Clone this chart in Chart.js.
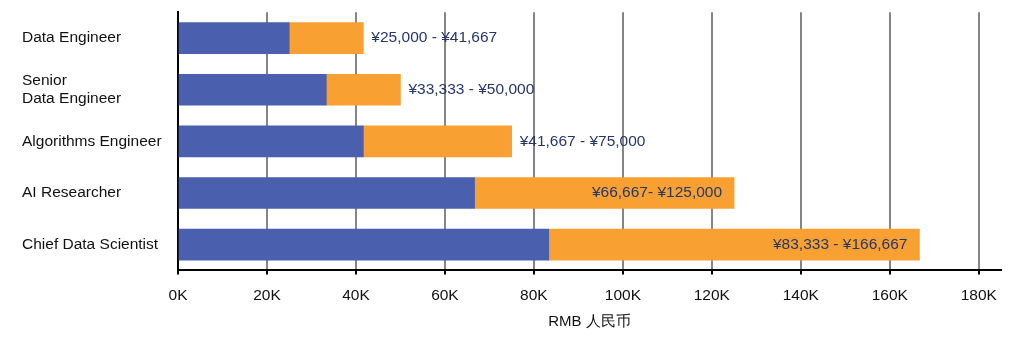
<!DOCTYPE html>
<html>
<head>
<meta charset="utf-8">
<script src="https://cdn.jsdelivr.net/npm/chart.js@4.4.1/dist/chart.umd.min.js"></script>
<style>
  html, body { margin: 0; padding: 0; background: #fff; }
  #wrap { width: 1024px; height: 337px; position: relative; }
</style>
</head>
<body>
<div id="wrap"><canvas id="salaryChart"></canvas></div>
<script>
// Job titles and monthly salary range (RMB)
const jobTitles = ['Data Engineer', ['Senior', 'Data Engineer'], 'Algorithms Engineer', 'AI Researcher', 'Chief Data Scientist'];
const minSalary = [25000, 33333, 41667, 66667, 83333];
const maxSalary = [41667, 50000, 75000, 125000, 166667];
const rangeLabels = ['¥25,000 - ¥41,667', '¥33,333 - ¥50,000', '¥41,667 - ¥75,000', '¥66,667- ¥125,000', '¥83,333 - ¥166,667'];
const xTickValues = [0, 20000, 40000, 60000, 80000, 100000, 120000, 140000, 160000, 180000];

const FONT = 'Liberation Sans, Arial, sans-serif';

// Draw the range text either inside the orange part or just after it
const rangeLabelPlugin = {
  id: 'rangeLabels',
  afterDatasetsDraw(chart) {
    const ctx = chart.ctx;
    const meta = chart.getDatasetMeta(1);
    ctx.save();
    ctx.font = '15.5px ' + FONT;
    ctx.textBaseline = 'middle';
    ctx.fillStyle = '#25376a';
    meta.data.forEach((bar, i) => {
      const text = rangeLabels[i];
      const w = ctx.measureText(text).width;
      const segWidth = bar.x - bar.base;
      if (segWidth > w + 40) {
        ctx.textAlign = 'right';
        ctx.fillText(text, bar.x - 12, bar.y);
      } else {
        ctx.textAlign = 'left';
        ctx.fillText(text, bar.x + 8, bar.y);
      }
    });
    ctx.restore();
  }
};

const ctx = document.getElementById('salaryChart').getContext('2d');
new Chart(ctx, {
  type: 'bar',
  data: {
    labels: jobTitles,
    datasets: [
      {
        label: 'Min',
        data: minSalary,
        backgroundColor: '#4a5fae',
        borderWidth: 0,
        barThickness: 31,
        grouped: false
      },
      {
        label: 'Range',
        data: minSalary.map((v, i) => [v, maxSalary[i]]),
        backgroundColor: '#f8a032',
        borderWidth: 0,
        barThickness: 31,
        grouped: false
      }
    ]
  },
  options: {
    indexAxis: 'y',
    responsive: true,
    maintainAspectRatio: false,
    animation: false,
    layout: { padding: { left: 22, right: 23, top: 11, bottom: 0 } },
    plugins: {
      legend: { display: false },
      tooltip: { enabled: false }
    },
    scales: {
      x: {
        min: 0,
        max: 185000,
        afterBuildTicks(axis) {
          axis.ticks = xTickValues.map(v => ({ value: v }));
        },
        ticks: {
          padding: 12,
          color: '#111',
          autoSkip: false,
          font: { family: FONT, size: 15.5 },
          callback: v => (v / 1000) + 'K'
        },
        grid: {
          color: '#858585',
          lineWidth: 2,
          tickLength: 4,
          tickColor: '#000',
          tickWidth: 2
        },
        border: { display: true, color: '#000', width: 2 },
        title: {
          display: true,
          text: 'RMB 人民币',
          color: '#111',
          font: { family: FONT, size: 15 },
          padding: { top: -4, bottom: 6 }
        }
      },
      y: {
        afterFit(scale) { scale.width = 156; },
        ticks: {
          crossAlign: 'far',
          color: '#111',
          font: { family: FONT, size: 15.5 },
          autoSkip: false
        },
        grid: { display: false },
        border: { display: true, color: '#000', width: 2 }
      }
    }
  },
  plugins: [rangeLabelPlugin]
});
</script>
</body>
</html>
